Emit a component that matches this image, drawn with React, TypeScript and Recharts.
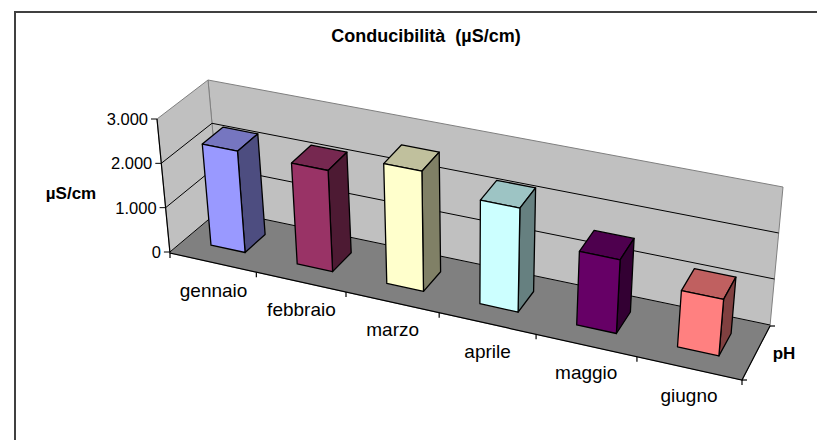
import React from "react";
import { BarChart, Bar, XAxis, YAxis, CartesianGrid } from "recharts";

// Values
const months = ["gennaio", "febbraio", "marzo", "aprile", "maggio", "giugno"];
const conductivity = [2290, 2270, 2680, 2300, 1620, 1230];
const yTicks = [0, 1000, 2000, 3000];
const yTickLabels = ["0", "1.000", "2.000", "3.000"];

const frontColors = ["#9999FF", "#993366", "#FFFFCC", "#CCFFFF", "#660066", "#FF8080"];
const topColors = ["#7676C0", "#762850", "#C0C09D", "#9DC4C4", "#4E004E", "#C06060"];
const sideColors = ["#4D4D80", "#4D1A33", "#808066", "#668080", "#330033", "#804040"];

const data = months.map((month, i) => ({ month, value: conductivity[i] }));

const WIDTH = 817;
const HEIGHT = 440;

// the flat plot rect recharts works in, every mark gets projected from it
const plot = { left: 170, top: 119, width: 572, height: 134 };
const margin = {
  left: plot.left,
  top: plot.top,
  right: WIDTH - plot.left - plot.width,
  bottom: HEIGHT - plot.top - plot.height,
};

type Pt = [number, number];

// corners of the 3D box as they land on screen
const FL: Pt = [170, 253];
const FR: Pt = [742, 380];
const BL: Pt = [220, 211];
const BR: Pt = [770, 326];
const FLT: Pt = [157, 119];
const FRT: Pt = [755, 241];
const BLT: Pt = [208, 80];
const BRT: Pt = [783, 187];

const PERSPECTIVE = 1.125;
const BAR_DEPTH_FRONT = 0.3;
const BAR_DEPTH_BACK = 0.72;

const lerp = (a: Pt, b: Pt, t: number): Pt => [a[0] + (b[0] - a[0]) * t, a[1] + (b[1] - a[1]) * t];

const project = (u: number, d: number, h: number): Pt => {
  const t = u / (u + (1 - u) * PERSPECTIVE);
  const floor = lerp(lerp(FL, FR, t), lerp(BL, BR, t), d);
  const ceil = lerp(lerp(FLT, FRT, t), lerp(BLT, BRT, t), d);
  return lerp(floor, ceil, h);
};

const pts = (list: Pt[]) => list.map((p) => `${p[0].toFixed(1)},${p[1].toFixed(1)}`).join(" ");
const toU = (x: number) => (x - plot.left) / plot.width;
const toH = (y: number) => (plot.top + plot.height - y) / plot.height;

const Box3D = (props: any) => {
  const { x, y, width, height, index } = props;
  const u0 = toU(x);
  const u1 = toU(x + width);
  const h = toH(y);
  const h0 = toH(y + height);
  const d0 = BAR_DEPTH_FRONT;
  const d1 = BAR_DEPTH_BACK;
  const line = { stroke: "#000", strokeWidth: 1.3, strokeLinejoin: "round" as const };
  return (
    <g>
      <polygon
        points={pts([project(u0, d0, h), project(u0, d1, h), project(u1, d1, h), project(u1, d0, h)])}
        fill={topColors[index]}
        {...line}
      />
      <polygon
        points={pts([project(u1, d0, h0), project(u1, d1, h0), project(u1, d1, h), project(u1, d0, h)])}
        fill={sideColors[index]}
        {...line}
      />
      <polygon
        points={pts([project(u0, d0, h0), project(u1, d0, h0), project(u1, d0, h), project(u0, d0, h)])}
        fill={frontColors[index]}
        {...line}
      />
    </g>
  );
};

// horizontal grid lines run round the left wall and the back wall
const WallLine = (props: any) => {
  const h = toH(props.y1);
  if (h <= 0.001 || h >= 0.999) return <g key={props.key} />;
  return (
    <polyline
      key={props.key}
      points={pts([project(0, 0, h), project(0, 1, h), project(1, 1, h)])}
      fill="none"
      stroke="#000"
      strokeWidth={1}
    />
  );
};

const MonthTick = (props: any) => {
  const { x, index, payload } = props;
  const p = project(toU(x), 0, 0);
  return (
    <text x={p[0]} y={p[1] + 34} textAnchor="middle" fontFamily="Liberation Sans" fontSize={19} fill="#000">
      {payload.value ?? months[index]}
    </text>
  );
};

const ValueTick = (props: any) => {
  const { y, index } = props;
  const p = project(0, 0, toH(y));
  return (
    <g>
      <line x1={p[0] - 6} y1={p[1]} x2={p[0]} y2={p[1]} stroke="#000" strokeWidth={1} />
      <text x={p[0] - 9} y={p[1] + 6} textAnchor="end" fontFamily="Liberation Sans" fontSize={16.5} fill="#000">
        {yTickLabels[index]}
      </text>
    </g>
  );
};

// the walls and the floor sit behind the chart surface
const Backdrop = () => (
  <svg width={WIDTH} height={HEIGHT} style={{ position: "absolute", left: 0, top: 0 }}>
    <line x1={15} y1={11} x2={15} y2={HEIGHT} stroke="#404040" strokeWidth={2} />
    <line x1={14} y1={12} x2={WIDTH} y2={12} stroke="#404040" strokeWidth={2} />
    <polygon points={pts([BL, BLT, BRT, BR])} fill="#C0C0C0" stroke="#808080" />
    <polygon points={pts([FL, FLT, BLT, BL])} fill="#C0C0C0" stroke="#808080" />
    <polygon points={pts([FL, FR, BR, BL])} fill="#808080" stroke="#808080" />
  </svg>
);

const axisEdges = (
  <g stroke="#000" strokeWidth={1.2} fill="none">
    <polyline points={pts([FLT, FL, FR, BR])} />
    {months.map((m, i) => {
      const p = project((i + 1) / months.length, 0, 0);
      return <line key={m} x1={p[0]} y1={p[1]} x2={p[0]} y2={p[1] + 5} />;
    })}
    <line x1={FL[0]} y1={FL[1]} x2={FL[0]} y2={FL[1] + 5} />
    <line x1={FR[0]} y1={FR[1]} x2={FR[0] + 5} y2={FR[1]} />
    <line x1={BR[0]} y1={BR[1]} x2={BR[0] + 5} y2={BR[1]} />
  </g>
);

const App = () => (
  <div style={{ position: "absolute", left: 0, top: 0, width: WIDTH, height: HEIGHT }}>
    <Backdrop />
    <div style={{ position: "absolute", left: 0, top: 0 }}>
      <BarChart width={WIDTH} height={HEIGHT} data={data} margin={margin} barCategoryGap="30%">
        <CartesianGrid vertical={false} horizontal={WallLine} />
        <XAxis dataKey="month" axisLine={false} tickLine={false} tick={MonthTick} interval={0} height={1} />
        <YAxis
          domain={[0, 3000]}
          ticks={yTicks}
          axisLine={false}
          tickLine={false}
          tick={ValueTick}
          width={1}
        />
        <Bar dataKey="value" shape={Box3D} isAnimationActive={false} />
        {axisEdges}
        <text
          x={426}
          y={42}
          textAnchor="middle"
          fontFamily="Liberation Sans"
          fontSize={18}
          fontWeight="bold"
          style={{ whiteSpace: "pre" }}
        >
          {"Conducibilità  (µS/cm)"}
        </text>
        <text x={71} y={199} textAnchor="middle" fontFamily="Liberation Sans" fontSize={17} fontWeight="bold">
          µS/cm
        </text>
        <text x={784} y={359} textAnchor="middle" fontFamily="Liberation Sans" fontSize={17} fontWeight="bold">
          pH
        </text>
      </BarChart>
    </div>
  </div>
);

export default App;
